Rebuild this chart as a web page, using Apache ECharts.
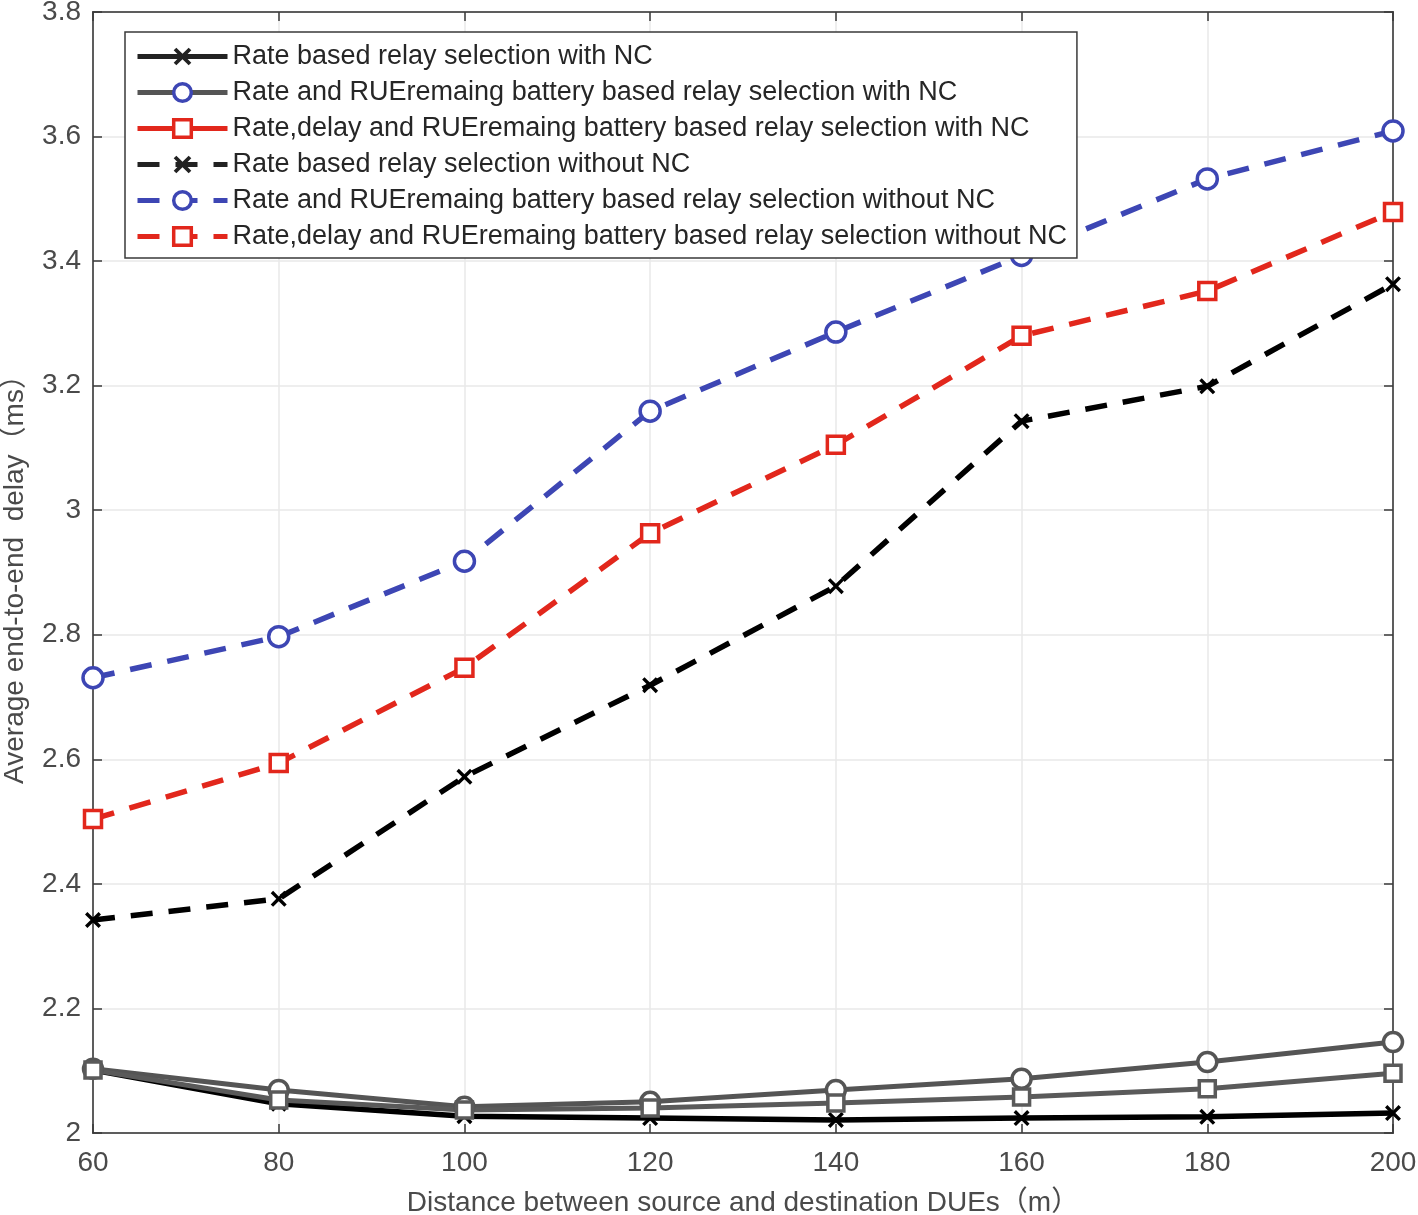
<!DOCTYPE html>
<html>
<head>
<meta charset="utf-8">
<script src="https://cdn.jsdelivr.net/npm/echarts@6/dist/echarts.min.js"></script>
<style>html,body{margin:0;padding:0;background:#fff}#c{width:1418px;height:1215px}</style>
</head>
<body>
<div id="c"></div>
<script>
const distances = [60, 80, 100, 120, 140, 160, 180, 200];
const seriesNames = [
  'Rate based relay selection with NC',
  'Rate and RUEremaing battery based relay selection with NC',
  'Rate,delay and RUEremaing battery based relay selection with NC',
  'Rate based relay selection without NC',
  'Rate and RUEremaing battery based relay selection without NC',
  'Rate,delay and RUEremaing battery based relay selection without NC'
];
const rateWithNC        = [2.101, 2.047, 2.027, 2.024, 2.021, 2.024, 2.026, 2.032];
const rateBatWithNC     = [2.103, 2.069, 2.042, 2.050, 2.069, 2.087, 2.114, 2.146];
const rateDelayWithNC   = [2.101, 2.053, 2.037, 2.040, 2.048, 2.058, 2.071, 2.096];
const rateWithoutNC     = [2.342, 2.376, 2.572, 2.719, 2.878, 3.143, 3.199, 3.363];
const rateBatWithoutNC  = [2.731, 2.797, 2.918, 3.159, 3.286, 3.409, 3.532, 3.609];
const rateDelayWithoutNC= [2.504, 2.594, 2.747, 2.963, 3.105, 3.280, 3.352, 3.479];
const xTicks = { min: 60, max: 200, interval: 20 };
const yTicks = { min: 2, max: 3.8, interval: 0.2 };

const FONT = 'Arial, "Liberation Sans", "Noto Sans CJK SC", sans-serif';
const xMark = 'path://M0,1.5 L1.5,0 L5,3.5 L8.5,0 L10,1.5 L6.5,5 L10,8.5 L8.5,10 L5,6.5 L1.5,10 L0,8.5 L3.5,5 Z';
const pair = arr => distances.map((d, i) => [d, arr[i]]);

const dash = [22, 16];
function mk(name, data, color, symbol, size, dashed, lw) {
  return {
    name, type: 'line', data: pair(data), symbol, symbolSize: size,
    lineStyle: { color, width: lw, type: dashed ? dash : 'solid' },
    itemStyle: { color: symbol === xMark ? color : '#fff', borderColor: color, borderWidth: symbol === xMark ? 0 : 3.5 },
    emphasis: { disabled: true }, z: dashed ? 3 : 2
  };
}
const series = [
  mk(seriesNames[0], rateWithNC, '#000000', xMark, 16, false, 5.5),
  mk(seriesNames[1], rateBatWithNC, '#555555', 'circle', 19, false, 5),
  mk(seriesNames[2], rateDelayWithNC, '#5a5a5a', 'rect', 16, false, 5),
  mk(seriesNames[3], rateWithoutNC, '#000000', xMark, 16, true, 5.5),
  mk(seriesNames[4], rateBatWithoutNC, '#3d46b4', 'circle', 20, true, 5.5),
  mk(seriesNames[5], rateDelayWithoutNC, '#e2271c', 'rect', 17, true, 5.5)
];

const legendData = [
  { name: seriesNames[0], itemStyle: { color: '#222', borderWidth: 0 }, lineStyle: { color: '#222', width: 5 } },
  { name: seriesNames[1], itemStyle: { color: '#fff', borderColor: '#3d46b4', borderWidth: 3.5 }, lineStyle: { color: '#555', width: 5 } },
  { name: seriesNames[2], itemStyle: { color: '#fff', borderColor: '#e2271c', borderWidth: 3.5 }, lineStyle: { color: '#e2271c', width: 5 } },
  { name: seriesNames[3], itemStyle: { color: '#222', borderWidth: 0 }, lineStyle: { color: '#222', width: 5 } },
  { name: seriesNames[4], itemStyle: { color: '#fff', borderColor: '#3d46b4', borderWidth: 3.5 }, lineStyle: { color: '#3d46b4', width: 5 } },
  { name: seriesNames[5], itemStyle: { color: '#fff', borderColor: '#e2271c', borderWidth: 3.5 }, lineStyle: { color: '#e2271c', width: 5 } }
];

const axisLabel = { color: '#4a4a4a', fontSize: 28, fontFamily: FONT };
const chart = echarts.init(document.getElementById('c'), null, { renderer: 'canvas' });
chart.setOption({
  animation: false,
  backgroundColor: '#fff',
  grid: { left: 93, right: 25, top: 12, bottom: 82, show: true, borderColor: '#3a3a3a', borderWidth: 1.5, backgroundColor: 'transparent', containLabel: false, outerBoundsMode: 'none' },
  legend: {
    data: legendData, orient: 'vertical', left: 125, top: 32,
    padding: [11, 10, 8, 10], itemGap: 9, itemWidth: 90, itemHeight: 22,
    backgroundColor: '#fff', borderColor: '#3a3a3a', borderWidth: 1.5,
    textStyle: { color: '#262626', fontSize: 27, fontFamily: FONT },
    selectedMode: false, z: 10
  },
  xAxis: [{
    type: 'value', min: xTicks.min, max: xTicks.max, interval: xTicks.interval,
    name: 'Distance between source and destination DUEs（m）', nameLocation: 'middle', nameGap: 56,
    nameTextStyle: { color: '#4a4a4a', fontSize: 28, fontFamily: FONT },
    axisLine: { show: true, onZero: false, lineStyle: { color: '#3a3a3a', width: 1.5 } },
    axisTick: { show: true, inside: true, length: 9, lineStyle: { color: '#3a3a3a', width: 1.5 } },
    axisLabel: Object.assign({ margin: 16 }, axisLabel),
    splitLine: { show: true, lineStyle: { color: '#e8e8e8', width: 1.5 } }
  }, {
    type: 'value', position: 'top', min: xTicks.min, max: xTicks.max, interval: xTicks.interval,
    axisLine: { show: true, lineStyle: { color: '#3a3a3a', width: 1.5 } },
    axisTick: { show: true, inside: true, length: 9, lineStyle: { color: '#3a3a3a', width: 1.5 } },
    axisLabel: { show: false }, splitLine: { show: false }
  }],
  yAxis: [{
    type: 'value', min: yTicks.min, max: yTicks.max, interval: yTicks.interval,
    name: 'Average end-to-end  delay（ms）', nameLocation: 'middle', nameGap: 64,
    nameTextStyle: { color: '#4a4a4a', fontSize: 28, fontFamily: FONT },
    axisLine: { show: true, onZero: false, lineStyle: { color: '#3a3a3a', width: 1.5 } },
    axisTick: { show: true, inside: true, length: 9, lineStyle: { color: '#3a3a3a', width: 1.5 } },
    axisLabel: Object.assign({ margin: 12 }, axisLabel),
    splitLine: { show: true, lineStyle: { color: '#e8e8e8', width: 1.5 } }
  }, {
    type: 'value', position: 'right', min: yTicks.min, max: yTicks.max, interval: yTicks.interval,
    axisLine: { show: true, lineStyle: { color: '#3a3a3a', width: 1.5 } },
    axisTick: { show: true, inside: true, length: 9, lineStyle: { color: '#3a3a3a', width: 1.5 } },
    axisLabel: { show: false }, splitLine: { show: false }
  }],
  series
});
</script>
</body>
</html>
